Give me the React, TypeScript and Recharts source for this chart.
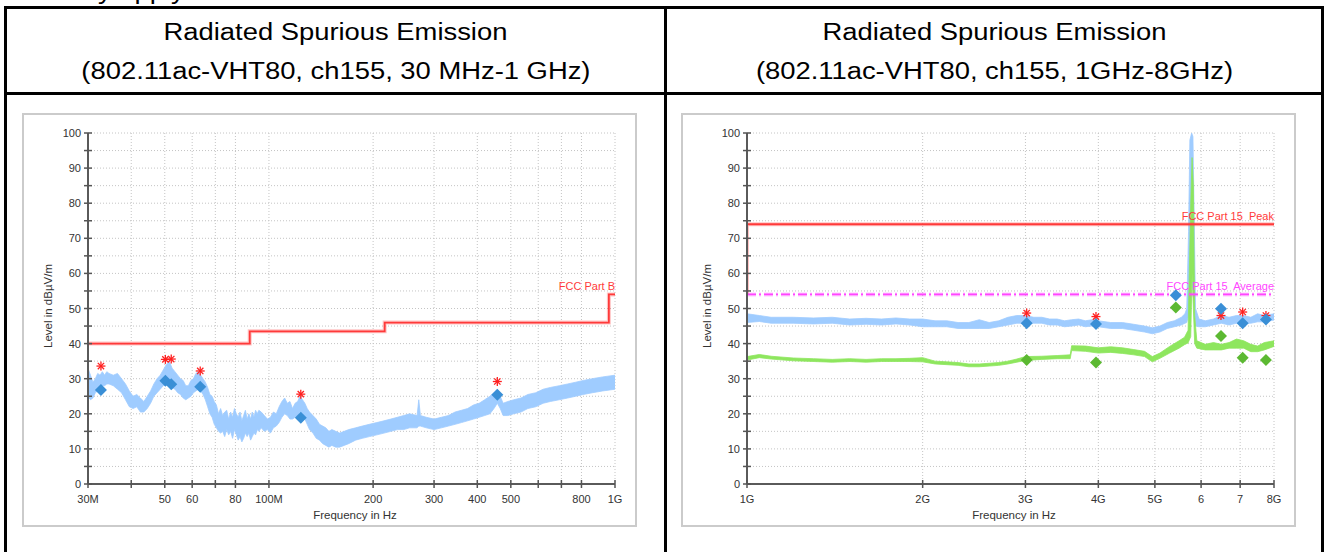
import React from "react";
import {
  ComposedChart,
  Area,
  Line,
  Scatter,
  XAxis,
  YAxis,
  CartesianGrid,
} from "recharts";

const FONT = "'Liberation Sans', Arial, Helvetica, sans-serif";

// level axis, dBµV/m (every 5 gets a grid line, every 10 a label)
const levelTicks = [0, 5, 10, 15, 20, 25, 30, 35, 40, 45, 50, 55, 60, 65, 70, 75, 80, 85, 90, 95, 100];

// ---- 30 MHz - 1 GHz (frequency in MHz) ----
const lowTicks = [30, 40, 50, 60, 70, 80, 100, 200, 300, 400, 500, 600, 700, 800, 1000];
const lowTickLabels: Record<number, string> = {
  30: "30M", 50: "50", 60: "60", 80: "80", 100: "100M",
  200: "200", 300: "300", 400: "400", 500: "500", 800: "800", 1000: "1G",
};
// [freq, low, high] of the peak scan band
const lowPeakTrace: [number, number, number][] = [
  [30, 25, 33], [30.5, 24, 31], [31, 24.5, 29], [31.5, 26, 30], [32, 26.5, 31.5],
  [32.5, 27.5, 31], [33, 28, 32], [33.5, 28, 31], [34, 28.5, 32], [34.5, 28.5, 31.5],
  [35.5, 28, 31], [36.5, 27, 31.5], [37.5, 26, 30], [38.5, 24, 28.5], [39.5, 22, 26.5],
  [40.5, 21.5, 25], [41.5, 22, 25.5], [42.5, 20.5, 24.5], [43.5, 20.5, 23.5], [44.5, 21.5, 25],
  [45.5, 23, 26.5], [46.5, 25, 28.5], [47.5, 26, 30], [48.5, 27, 31], [49.5, 28, 32.5],
  [50.5, 28.5, 34], [51.5, 28, 35], [52.5, 27.5, 33], [53.5, 27, 32], [54.5, 26, 31],
  [55.5, 25.5, 30], [56.5, 24.5, 29.5], [57.5, 24, 28], [58.5, 24.5, 28], [59.5, 25, 29.5],
  [60.5, 26, 30], [61.5, 26.5, 31.5], [62.5, 27, 32], [63.5, 26.5, 31], [64.5, 25.5, 30],
  [65.5, 24, 29], [66.5, 22, 27.5], [67.5, 20, 25.5], [68.5, 19, 25], [69.5, 17, 23.5],
  [70.5, 16, 22.5], [71.5, 15, 20], [72.5, 14.5, 21.5], [73.5, 15, 19.5], [74.5, 13.5, 20.5],
  [75.5, 15.5, 21], [76.5, 14, 18.5], [77.5, 15, 20.5], [78.5, 13, 19], [79.5, 15.5, 21.5],
  [80.5, 14, 20], [81.5, 12.5, 19], [82.5, 13.5, 20.5], [83.5, 12, 18], [84.5, 13, 19.5],
  [85.5, 14.5, 21], [86.5, 13.5, 18.5], [87.5, 14.5, 20], [88.5, 12.5, 18.5], [89.5, 13.5, 20.5],
  [90.5, 14.5, 19], [91.5, 14, 21], [92.5, 15.5, 20], [93.5, 15, 21], [95, 16, 20.5],
  [97, 15, 19.5], [99, 15.5, 18.5], [101, 14.5, 19], [103, 16, 20.5], [105, 16.5, 20],
  [107, 17.5, 22], [109, 19, 23.5], [111, 20, 24.5], [113, 19.5, 23], [115, 18.5, 23.5],
  [117, 18.5, 21.5], [119, 19, 23], [121, 19.5, 23.5], [123, 20.5, 25], [125, 20, 24],
  [127, 18.5, 23], [129, 17, 21.5], [131, 15.5, 20.5], [134, 14.5, 19.5], [137, 13, 18.5],
  [140, 12.5, 17], [143, 11.5, 16.5], [146, 11, 16], [149, 10.5, 15], [152, 11, 15.5],
  [156, 10.5, 15], [160, 10.5, 14.5], [165, 11, 15], [170, 11.5, 15.5], [178, 12.5, 16],
  [186, 13, 16.5], [195, 13.5, 17], [205, 14, 17.5], [215, 14.5, 18], [225, 15, 18.5],
  [235, 15.5, 19], [245, 15.5, 19.5], [255, 16, 20], [268, 16, 19.5], [271, 16.5, 24],
  [274, 16.5, 19.5], [285, 16, 19], [300, 15.5, 18.5], [315, 16, 19], [330, 16.5, 19.5],
  [345, 17, 20.5], [360, 17.5, 21], [375, 18, 21.5], [390, 18.5, 22.5], [405, 19, 23],
  [420, 19.5, 24], [435, 20, 25], [447, 21.5, 26], [457, 23, 27], [466, 21.5, 25],
  [475, 19.5, 23], [490, 19.5, 23.5], [510, 20, 24], [535, 20.5, 24.5], [560, 21.5, 25.5],
  [590, 22, 26], [620, 23, 27], [650, 23.5, 27.5], [690, 24, 28], [730, 24.5, 28.5],
  [770, 25, 29], [810, 25.5, 29.5], [860, 26, 30], [920, 26.5, 30.5], [1000, 27, 31],
];
const fccPartB: [number, number][] = [
  [30, 40], [88, 40], [88, 43.5], [216, 43.5], [216, 46], [960, 46], [960, 54], [1000, 54],
];
const lowFinalMarks: [number, number][] = [
  [32.7, 26.8], [50.2, 29.4], [52.2, 28.4], [63.3, 27.7], [123.6, 18.9], [457, 25.4],
];
const lowPeakMarks: [number, number][] = [
  [32.7, 33.6], [50.2, 35.5], [52.2, 35.6], [63.3, 32.2], [123.6, 25.6], [457, 29.2],
];

// ---- 1 GHz - 8 GHz (frequency in GHz) ----
const highTicks = [1, 2, 3, 4, 5, 6, 7, 8];
const highTickLabels: Record<number, string> = {
  1: "1G", 2: "2G", 3: "3G", 4: "4G", 5: "5G", 6: "6", 7: "7", 8: "8G",
};
const highPeakTrace: [number, number, number][] = [
  [1.0, 46, 48.5], [1.05, 46.3, 48], [1.1, 45.8, 47.5], [1.2, 45.8, 47.5], [1.3, 45.6, 47.3],
  [1.4, 45.8, 47.5], [1.5, 45.3, 47], [1.6, 45.5, 47.2], [1.7, 45.3, 47], [1.8, 45.6, 47.3],
  [1.9, 45.3, 47], [2.0, 44.8, 47], [2.1, 44.8, 46.5], [2.2, 44.8, 46.5], [2.3, 44.3, 46],
  [2.4, 44.3, 46], [2.5, 44.3, 46.8], [2.6, 44.3, 46], [2.7, 44.8, 46.5], [2.8, 45.3, 47.5],
  [2.9, 45.8, 48], [3.0, 45.8, 48], [3.1, 45.8, 47.5], [3.2, 45.8, 47.5], [3.3, 45.3, 47],
  [3.4, 45.3, 47], [3.5, 44.8, 46.5], [3.6, 45, 46.8], [3.7, 45.3, 47], [3.8, 44.8, 46.5],
  [3.9, 45, 46.8], [4.0, 44.8, 46.5], [4.2, 44.3, 46], [4.4, 44.3, 46], [4.6, 43.8, 45.5],
  [4.8, 43.3, 45], [4.95, 42.8, 44.5], [5.1, 43.3, 45], [5.25, 44.3, 46], [5.4, 44.8, 46.5],
  [5.55, 45.3, 47.5], [5.63, 45.8, 48.5], [5.67, 46, 50], [5.71, 48, 72], [5.74, 60, 98],
  [5.78, 80, 100], [5.81, 70, 99], [5.84, 50, 75], [5.87, 45, 50], [5.95, 44.8, 47],
  [6.1, 44.8, 46.5], [6.3, 45.3, 47], [6.5, 45.8, 48], [6.7, 45.3, 47.5], [6.9, 45.8, 48],
  [7.1, 45.8, 48], [7.3, 45.8, 47.5], [7.5, 46.2, 48.5], [7.7, 46.2, 48], [8.0, 46.7, 48.5],
];
const highAvgTrace: [number, number, number][] = [
  [1.0, 35.3, 36.3], [1.05, 36, 36.9], [1.1, 35.6, 36.4], [1.2, 35.1, 35.9], [1.3, 34.9, 35.7],
  [1.4, 34.7, 35.5], [1.5, 34.9, 35.7], [1.6, 34.7, 35.5], [1.7, 34.9, 35.7], [1.8, 34.9, 35.7],
  [1.9, 34.9, 35.8], [2.0, 34.8, 36], [2.1, 34.2, 35], [2.2, 34, 34.8], [2.3, 33.8, 34.6],
  [2.4, 33.4, 34.2], [2.5, 33.4, 34.2], [2.6, 33.6, 34.4], [2.7, 33.8, 34.6], [2.8, 34.2, 35],
  [2.9, 34.7, 35.6], [3.0, 35.2, 36.3], [3.2, 35.5, 36.4], [3.4, 35.7, 36.6], [3.58, 35.7, 36.8],
  [3.6, 38, 39.4], [3.8, 37.8, 39.3], [4.0, 37.3, 38.8], [4.2, 37.5, 39.1], [4.4, 37.2, 38.8],
  [4.6, 36.8, 38.3], [4.8, 36.3, 37.8], [4.95, 34.8, 36.3], [5.1, 35.8, 37.3], [5.3, 37.3, 39.2],
  [5.5, 38.7, 40.8], [5.62, 39.7, 41.8], [5.7, 40.2, 43.8], [5.76, 42, 80], [5.79, 60, 93],
  [5.82, 50, 85], [5.85, 40, 48], [5.9, 38.7, 40.8], [6.1, 38.2, 39.8], [6.3, 38.2, 40.3],
  [6.5, 38.2, 39.8], [6.7, 38.7, 40.3], [6.9, 38.7, 41.3], [7.1, 38.7, 40.8], [7.3, 37.7, 39.8],
  [7.5, 37.7, 39.3], [7.7, 38.2, 40.3], [8.0, 39.2, 40.8],
];
const fccPeak: [number, number][] = [[1, 54], [1, 74], [8, 74]];
const fccAverage: [number, number][] = [[1, 54], [8, 54]];
const highPeakFinal: [number, number][] = [
  [3.015, 45.8], [3.963, 45.6], [5.43, 53.8], [6.49, 49.9], [7.07, 45.8], [7.75, 46.9],
];
const highAvgFinal: [number, number][] = [
  [3.015, 35.3], [3.963, 34.6], [5.43, 50.3], [6.49, 42.2], [7.07, 36.0], [7.75, 35.3],
];
const highPeakMarks: [number, number][] = [
  [3.015, 48.7], [3.963, 47.7], [6.49, 48.0], [7.07, 49.0], [7.75, 48.0],
];

const toBand = (rows: [number, number, number][]) => rows.map(([f, lo, hi]) => ({ f, r: [lo, hi] }));
const toPts = (rows: [number, number][]) => rows.map(([f, v]) => ({ f, v }));

const BLUE = "#9fccff";
const GREEN = "#8ee65e";
const BLUE_MARK = "#3a8fd6";
const GREEN_MARK = "#5cb932";
const RED = "#ff3a3a";
const MAGENTA = "#ff46ff";

const diamond = (color: string) => (p: any) => {
  const { cx, cy } = p;
  const s = 6;
  return <polygon points={`${cx},${cy - s} ${cx + s},${cy} ${cx},${cy + s} ${cx - s},${cy}`} fill={color} />;
};

const star = (p: any) => {
  const { cx, cy } = p;
  const r = 4.5;
  const d = r * 0.7;
  return (
    <g stroke="#ff2020" strokeWidth={1.3}>
      <line x1={cx - r} y1={cy} x2={cx + r} y2={cy} />
      <line x1={cx} y1={cy - r} x2={cx} y2={cy + r} />
      <line x1={cx - d} y1={cy - d} x2={cx + d} y2={cy + d} />
      <line x1={cx - d} y1={cy + d} x2={cx + d} y2={cy - d} />
    </g>
  );
};

const limitText = (text: string, color: string) => (p: any) => (
  <text x={p.cx} y={p.cy - 4} textAnchor="end" fontSize={11} fontFamily={FONT} fill={color} style={{ whiteSpace: "pre" }}>
    {text}
  </text>
);

const makeXTick = (labels: Record<number, string>) => (p: any) => {
  const { x, y, payload } = p;
  const label = labels[payload.value];
  return (
    <g>
      <line x1={x} x2={x} y1={y - 4} y2={y + 4} stroke="#555" strokeWidth={1.5} />
      {label && (
        <text x={x} y={y + 19} textAnchor="middle" fontSize={11} fontFamily={FONT} fill="#333">
          {label}
        </text>
      )}
    </g>
  );
};

const YTick = (p: any) => {
  const { x, y, payload } = p;
  return (
    <g>
      <line x1={x - 4} x2={x + 4} y1={y} y2={y} stroke="#555" strokeWidth={1.5} />
      {payload.value % 10 === 0 && (
        <text x={x - 7} y={y + 4} textAnchor="end" fontSize={11} fontFamily={FONT} fill="#333">
          {payload.value}
        </text>
      )}
    </g>
  );
};

interface LimitDef {
  rows: [number, number][];
  color: string;
  dash?: string;
  text: string;
}

interface EmcChartProps {
  left: number;
  domain: [number, number];
  ticks: number[];
  tickLabels: Record<number, string>;
  traces: { rows: [number, number, number][]; color: string }[];
  limits: LimitDef[];
  finals: { rows: [number, number][]; color: string }[];
  peaks: [number, number][];
}

function EmcChart({ left, domain, ticks, tickLabels, traces, limits, finals, peaks }: EmcChartProps) {
  return (
    <>
      <div
        style={{
          position: "absolute", left: left - 1, top: 113, width: 615, height: 414,
          border: "2px solid #cbcbcb", boxSizing: "border-box", background: "#fff",
        }}
      />
      <div style={{ position: "absolute", left, top: 114 }}>
        <ComposedChart width={614} height={412} margin={{ top: 19, right: 22, bottom: 0, left: 0 }}>
          <CartesianGrid stroke="#c4c4c4" strokeDasharray="1 2" />
          <XAxis
            type="number"
            dataKey="f"
            scale="log"
            domain={domain}
            ticks={ticks}
            interval={0}
            allowDataOverflow
            height={42}
            tickSize={0}
            tickMargin={0}
            tickLine={false}
            tick={makeXTick(tickLabels)}
            axisLine={{ stroke: "#5a5a5a", strokeWidth: 2 }}
          />
          <YAxis
            type="number"
            domain={[0, 100]}
            ticks={levelTicks}
            interval={0}
            allowDataOverflow
            width={65}
            tickSize={0}
            tickMargin={0}
            tickLine={false}
            tick={YTick}
            axisLine={{ stroke: "#5a5a5a", strokeWidth: 2 }}
          />
          {traces.map((t, i) => (
            <Area
              key={`tr${i}`}
              data={toBand(t.rows)}
              dataKey="r"
              type="linear"
              stroke={t.color}
              strokeWidth={0.8}
              fill={t.color}
              fillOpacity={1}
              dot={false}
              activeDot={false}
              isAnimationActive={false}
            />
          ))}
          {limits.map((l, i) => (
            <Line
              key={`lh${i}`}
              data={toPts(l.rows)}
              dataKey="v"
              type="linear"
              stroke={l.color}
              strokeOpacity={0.3}
              strokeWidth={4}
              strokeDasharray={l.dash}
              dot={false}
              activeDot={false}
              isAnimationActive={false}
            />
          ))}
          {limits.map((l, i) => (
            <Line
              key={`l${i}`}
              data={toPts(l.rows)}
              dataKey="v"
              type="linear"
              stroke={l.color}
              strokeWidth={1.8}
              strokeDasharray={l.dash}
              dot={false}
              activeDot={false}
              isAnimationActive={false}
            />
          ))}
          {limits.map((l, i) => (
            <Scatter
              key={`lt${i}`}
              data={toPts([l.rows[l.rows.length - 1]])}
              dataKey="v"
              shape={limitText(l.text, l.color)}
              isAnimationActive={false}
            />
          ))}
          <Scatter data={toPts(peaks)} dataKey="v" shape={star} isAnimationActive={false} />
          {finals.map((m, i) => (
            <Scatter
              key={`m${i}`}
              data={toPts(m.rows)}
              dataKey="v"
              shape={diamond(m.color)}
              isAnimationActive={false}
            />
          ))}
        </ComposedChart>
      </div>
      <div
        style={{
          position: "absolute", left: left + 25, top: 306, transform: "translate(-50%, -50%) rotate(-90deg)",
          fontSize: 11.5, fontFamily: FONT, color: "#333", whiteSpace: "nowrap", lineHeight: "13px",
        }}
      >
        Level in dBµV/m
      </div>
      <div
        style={{
          position: "absolute", left: left + 232, width: 200, top: 509, textAlign: "center",
          fontSize: 11.5, fontFamily: FONT, color: "#333", whiteSpace: "nowrap", lineHeight: "13px",
        }}
      >
        Frequency in Hz
      </div>
    </>
  );
}

const headerLine = (text: string, left: number, width: number, top: number) => (
  <div
    style={{
      position: "absolute", left, width, top, height: 40, lineHeight: "40px", textAlign: "center",
      fontSize: 23, fontFamily: FONT, color: "#000", whiteSpace: "nowrap",
    }}
  >
    <span style={{ display: "inline-block", transform: "scaleX(1.19)" }}>{text}</span>
  </div>
);

export default function App() {
  return (
    <div
      style={{
        position: "absolute", left: 0, top: 0, width: 1325, height: 552, overflow: "hidden",
        background: "#fff", fontFamily: FONT,
      }}
    >
      {/* cut-off line of the text above the table */}
      <div style={{ position: "absolute", left: 0, top: 0, width: 400, height: 4, overflow: "hidden" }}>
        <div
          style={{
            position: "absolute", left: 98, top: -23, lineHeight: "28px", fontSize: 23,
            fontFamily: FONT, whiteSpace: "nowrap", transform: "scaleX(1.19)", transformOrigin: "0 0",
          }}
        >
          y apply
        </div>
      </div>

      {/* table grid */}
      <div
        style={{
          position: "absolute", left: 4, top: 6, width: 1320, height: 600,
          border: "3px solid #000", boxSizing: "border-box",
        }}
      />
      <div style={{ position: "absolute", left: 4, top: 92, width: 1320, height: 3, background: "#000" }} />
      <div style={{ position: "absolute", left: 664, top: 6, width: 3, height: 600, background: "#000" }} />

      {headerLine("Radiated Spurious Emission", 7, 657, 12)}
      {headerLine("(802.11ac-VHT80, ch155, 30 MHz-1 GHz)", 7, 657, 51)}
      {headerLine("Radiated Spurious Emission", 667, 654, 12)}
      {headerLine("(802.11ac-VHT80, ch155, 1GHz-8GHz)", 667, 654, 51)}

      <EmcChart
        left={23}
        domain={[30, 1000]}
        ticks={lowTicks}
        tickLabels={lowTickLabels}
        traces={[{ rows: lowPeakTrace, color: BLUE }]}
        limits={[{ rows: fccPartB, color: RED, text: "FCC Part B" }]}
        finals={[{ rows: lowFinalMarks, color: BLUE_MARK }]}
        peaks={lowPeakMarks}
      />
      <EmcChart
        left={682}
        domain={[1, 8]}
        ticks={highTicks}
        tickLabels={highTickLabels}
        traces={[
          { rows: highPeakTrace, color: BLUE },
          { rows: highAvgTrace, color: GREEN },
        ]}
        limits={[
          { rows: fccAverage, color: MAGENTA, dash: "9 3 2 3", text: "FCC Part 15  Average" },
          { rows: fccPeak, color: RED, text: "FCC Part 15  Peak" },
        ]}
        finals={[
          { rows: highPeakFinal, color: BLUE_MARK },
          { rows: highAvgFinal, color: GREEN_MARK },
        ]}
        peaks={highPeakMarks}
      />
    </div>
  );
}
